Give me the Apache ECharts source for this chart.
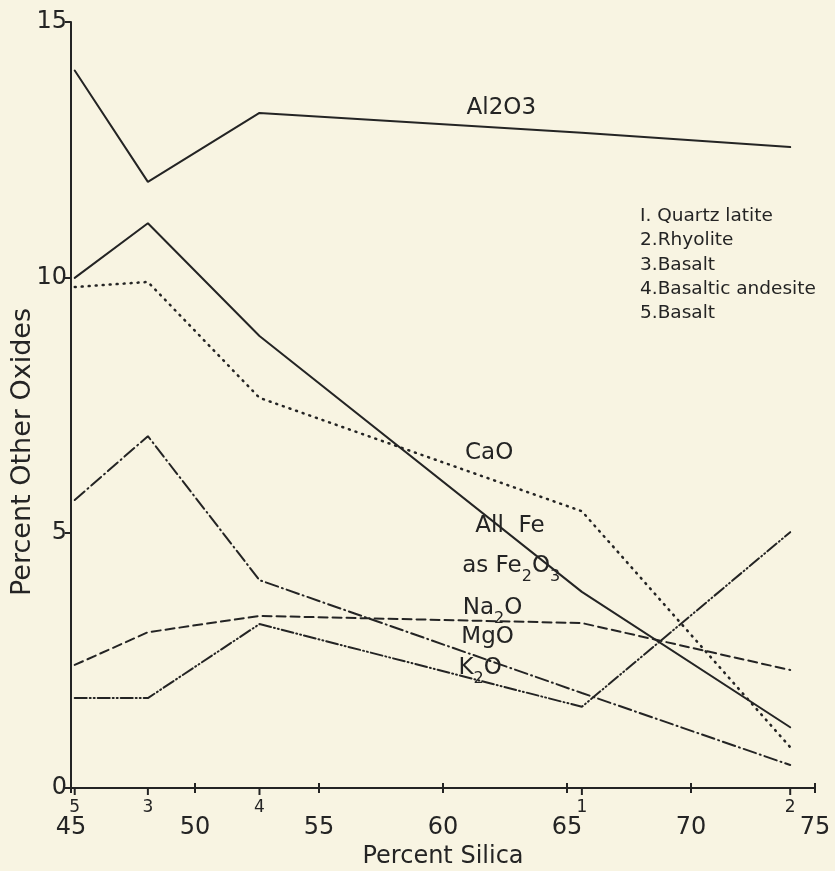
<!DOCTYPE html>
<html>
<head>
<meta charset="utf-8">
<script src="https://cdn.jsdelivr.net/npm/echarts@6/dist/echarts.min.js"></script>
<style>
  html, body { margin: 0; padding: 0; background: #f8f4e2; }
  #chart { width: 835px; height: 871px; }
</style>
</head>
<body>
<div id="chart"></div>
<script>
// silica content of each sample and its sample number
const silica = [45.15, 48.1, 52.6, 65.6, 74.0];
const sampleNo = ['5', '3', '4', '1', '2'];

// oxide percentages for samples in the same order
const al2o3 = [14.05, 11.87, 13.22, 12.83, 12.55];
const fe2o3 = [9.99, 11.06, 8.85, 3.84, 1.19];
const cao = [9.81, 9.91, 7.64, 5.42, 0.80];
const na2o = [2.41, 3.05, 3.37, 3.23, 2.31];
const mgo = [5.64, 6.89, 4.07, 1.86, 0.45];
const k2o = [1.76, 1.76, 3.21, 1.59, 5.01];

// line names written on the plot ({s|..} is a subscript), and where they sit
const lineLabels = ['{n|Al2O3}', '{n|CaO}', '{n|All  Fe}', '{n|as Fe}{s|2}{n|O}{s|3}',
  '{n|Na}{s|2}{n|O}', '{n|MgO}', '{n|K}{s|2}{n|O}'];
const lineLabelX = [62.35, 61.86, 62.7, 62.75, 62.0, 61.8, 61.5];
const lineLabelY = [13.24, 6.5, 5.07, 4.28, 3.45, 2.88, 2.28];

const legendLines = ['I. Quartz latite', '2.Rhyolite', '3.Basalt', '4.Basaltic andesite', '5.Basalt'];

const ink = '#242424';
const font = 'DejaVu Sans';

const pairs = (ys) => silica.map((x, i) => [x, ys[i]]);

const oxideLine = (name, ys, type, width) => ({
  name: name,
  type: 'line',
  data: pairs(ys),
  symbol: 'none',
  clip: false,
  lineStyle: { color: ink, width: width || 2, type: type, cap: 'round' },
  animation: false
});

const chart = echarts.init(document.getElementById('chart'), null, { renderer: 'canvas' });

chart.setOption({
  backgroundColor: '#f8f4e2',
  animation: false,
  grid: { left: 71, right: 20, top: 22, bottom: 83, outerBoundsMode: 'none', containLabel: false },
  xAxis: [{
    type: 'value',
    min: 45, max: 75, interval: 5,
    splitLine: { show: false },
    axisLine: { lineStyle: { color: ink, width: 2 } },
    axisTick: { length: 5, lineStyle: { color: ink, width: 2 } },
    axisLabel: { color: ink, fontFamily: font, fontSize: 24, margin: 28 },
    name: 'Percent Silica',
    nameLocation: 'middle',
    nameGap: 56,
    nameTextStyle: { color: ink, fontFamily: font, fontSize: 24 }
  }, {
    // same scale again, only to let the silica ticks cross the axis
    type: 'value',
    position: 'bottom',
    min: 45, max: 75, interval: 5,
    splitLine: { show: false },
    axisLine: { show: false },
    axisTick: { show: true, inside: true, length: 5, lineStyle: { color: ink, width: 2 } },
    axisLabel: { show: false }
  }],
  yAxis: {
    type: 'value',
    min: 0, max: 15, interval: 5,
    splitLine: { show: false },
    axisLine: { show: true, lineStyle: { color: ink, width: 2 } },
    axisTick: { show: true, length: 6, lineStyle: { color: ink, width: 2 } },
    axisLabel: { color: ink, fontFamily: font, fontSize: 24, margin: 4 }
  },
  graphic: [{
    type: 'text',
    x: 23,
    y: 452,
    rotation: Math.PI / 2,
    style: {
      text: 'Percent Other Oxides',
      fill: ink,
      font: '27px "' + font + '"',
      align: 'center',
      verticalAlign: 'middle'
    }
  }, {
    type: 'text',
    left: 640,
    top: 204,
    style: {
      text: legendLines.join('\n'),
      fill: ink,
      font: '18.5px "' + font + '"',
      lineHeight: 24.3
    }
  }],
  series: [
    oxideLine('Al2O3', al2o3, 'solid'),
    oxideLine('Fe2O3', fe2o3, 'solid'),
    oxideLine('CaO', cao, [1, 6], 2.5),
    oxideLine('Na2O', na2o, [9, 5]),
    oxideLine('MgO', mgo, [13, 4, 1, 4]),
    oxideLine('K2O', k2o, [12, 3, 1, 3, 1, 3]),
    {
      // sample ticks below the silica axis, numbered
      type: 'scatter',
      data: silica.map((x, i) => ({ value: [x, 0], name: sampleNo[i] })),
      symbol: 'rect',
      symbolSize: [2, 7],
      symbolOffset: [0, 3.5],
      itemStyle: { color: ink, opacity: 1 },
      clip: false,
      silent: true,
      label: {
        show: true,
        position: 'bottom',
        distance: 4,
        formatter: (p) => p.name,
        color: ink,
        opacity: 1,
        fontFamily: font,
        fontSize: 17
      }
    },
    {
      // names written beside the lines
      type: 'scatter',
      data: lineLabels.map((t, i) => ({ value: [lineLabelX[i], lineLabelY[i]], name: t })),
      symbolSize: 0,
      itemStyle: { opacity: 1 },
      silent: true,
      label: {
        show: true,
        position: 'inside',
        formatter: (p) => p.name,
        opacity: 1,
        rich: {
          n: { color: ink, fontFamily: font, fontSize: 23, lineHeight: 30, verticalAlign: 'top' },
          s: { color: ink, fontFamily: font, fontSize: 16, lineHeight: 16, verticalAlign: 'bottom' }
        }
      }
    }
  ]
});
</script>
</body>
</html>
